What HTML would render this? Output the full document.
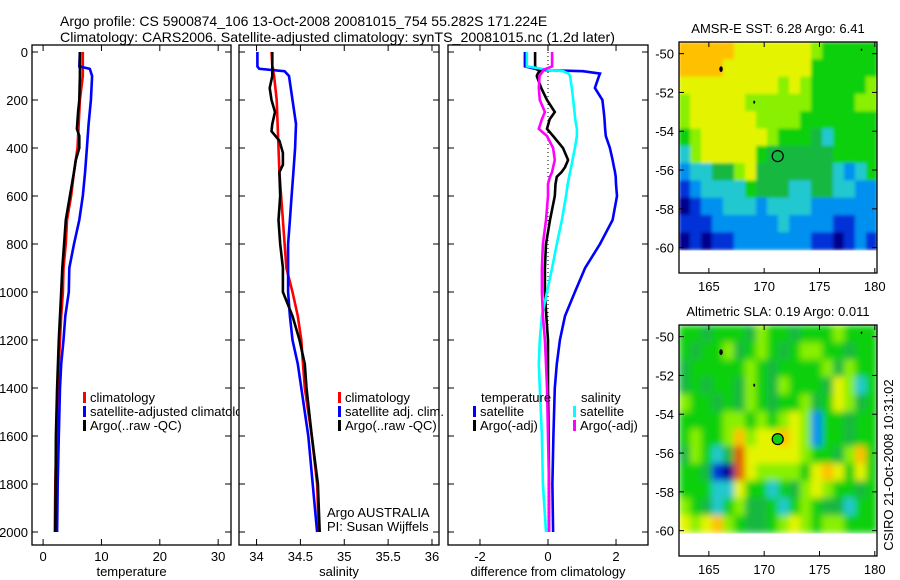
<!DOCTYPE html>
<html><head><meta charset="utf-8"><style>
html,body{margin:0;padding:0;background:#fff;}
svg{display:block;font-family:"Liberation Sans",sans-serif;}
</style></head><body>
<svg id="fig" width="900" height="580" viewBox="0 0 900 580" xmlns="http://www.w3.org/2000/svg">
<defs>
<filter id="blurS" x="0" y="0" width="1" height="1"><feGaussianBlur stdDeviation="1.6" edgeMode="duplicate"/></filter>
<filter id="blurL" x="0" y="0" width="1" height="1"><feGaussianBlur stdDeviation="3.5" edgeMode="duplicate"/></filter>
</defs>
<text x="60" y="26" font-size="14">Argo profile: CS 5900874_106 13-Oct-2008 20081015_754 55.282S 171.224E</text>
<text x="60" y="42" font-size="14" textLength="555" lengthAdjust="spacingAndGlyphs">Climatology: CARS2006. Satellite-adjusted climatology: synTS_20081015.nc (1.2d later)</text>
<g id="g"></g>
<text transform="translate(893,465) rotate(-90)" font-size="13" text-anchor="middle">CSIRO 21-Oct-2008 10:31:02</text>
</svg>
<script>
// ---------- data ----------
const depthT = [0,60,70,100,200,300,400,500,600,700,800,900,1000,1100,1200,1300,1400,1600,1800,2000];
const tempClim = [6.8,6.8,6.8,6.8,6.3,6.1,5.9,5.3,4.8,4.1,3.9,3.5,3.4,3.1,2.9,2.7,2.5,2.3,2.1,2.0];
const tempSat = [6.3,6.2,8.0,8.4,8.2,7.8,7.5,7.2,6.8,6.2,5.3,4.5,4.4,3.8,3.5,3.1,2.9,2.7,2.5,2.4];
const depthA = [0,100,200,250,320,350,400,450,500,600,700,800,900,1000,1200,1400,1600,2000];
const tempArgo = [6.3,6.3,6.2,6.0,5.8,6.2,6.2,5.6,5.3,4.6,3.9,3.6,3.3,3.1,2.7,2.4,2.2,2.1];

const depthS = [0,60,70,80,100,200,300,400,500,600,700,800,900,1000,1100,1200,1300,1400,1600,1800,2000];
const salClim = [34.17,34.18,34.19,34.19,34.2,34.23,34.24,34.25,34.26,34.28,34.3,34.32,34.34,34.41,34.47,34.51,34.53,34.55,34.63,34.69,34.71];
const salSat = [34.01,34.01,34.03,34.32,34.37,34.41,34.45,34.44,34.42,34.4,34.38,34.36,34.36,34.36,34.38,34.41,34.47,34.51,34.59,34.64,34.69];
const depthSA = [0,100,150,200,250,300,330,370,420,470,500,600,700,800,900,1000,1100,1200,1300,1400,1600,1800,2000];
const salArgo = [34.18,34.18,34.15,34.17,34.21,34.18,34.17,34.26,34.3,34.3,34.26,34.27,34.25,34.27,34.3,34.3,34.41,34.49,34.55,34.57,34.63,34.7,34.72];

const depthD = [0,60,75,80,90,100,150,200,250,280,320,350,400,450,480,500,520,550,600,700,800,900,1000,1100,1200,1300,1400,1600,1800,2000];
const dTempSat = [-0.68,-0.68,-0.24,1.03,1.53,1.5,1.38,1.6,1.64,1.66,1.68,1.7,1.82,1.9,1.94,1.97,1.99,2.0,2.03,1.9,1.53,1.09,0.79,0.5,0.35,0.26,0.2,0.16,0.13,0.15];
const dTempArgo = [-0.38,-0.38,-0.3,-0.24,-0.3,-0.33,-0.2,-0.03,0.2,0.05,-0.03,0.15,0.44,0.59,0.5,0.4,0.26,0.22,0.2,0.06,-0.06,-0.09,-0.09,-0.05,0.0,0.0,0.0,0.02,0.03,0.03];
const dSalSat = [-0.62,-0.62,0.06,0.44,0.6,0.65,0.7,0.74,0.78,0.8,0.85,0.85,0.79,0.72,0.68,0.65,0.62,0.58,0.53,0.41,0.26,0.12,-0.03,-0.18,-0.24,-0.27,-0.24,-0.18,-0.15,-0.06];
const dSalArgo = [0.12,0.12,-0.15,-0.15,-0.2,-0.25,-0.27,-0.24,-0.09,-0.18,-0.27,-0.03,0.15,0.2,0.15,0.12,0.06,0.0,0.0,-0.06,-0.15,-0.18,-0.18,-0.15,-0.09,-0.06,-0.03,0.0,0.03,0.03];

const tempTicks = [0,10,20,30];
const salTicks = [34,34.5,35,35.5,36];
const diffTicks = [-2,0,2];
const depthTicks = [0,200,400,600,800,1000,1200,1400,1600,1800,2000];
const lonTicks = [165,170,175,180];
const latTicks = [-50,-52,-54,-56,-58,-60];

// map grids: 12 rows (lat -49.4 -> -60.1), 18 cols (lon 162.3 -> 180.2); colour index 0-9
const sstGrid = [
"888887777777655555",
"888877777777555555",
"777777777676555556",
"677777666666555566",
"677777766665555555",
"567777776555435555",
"367777754444445555",
"233446744444443235",
"123333544433443322",
"012233323333222222",
"111222222322221122",
"010112222222110121"];
const slaGrid = [
"554555465545556555",
"545564565456655455",
"455555654555564655",
"454554654655547635",
"655454654556457645",
"555566565676255455",
"565568677876255455",
"465349777776554685",
"554109766665787575",
"555337553546765545",
"654356445356544355",
"767865445676566555"];
const sstTitle = "AMSR-E SST: 6.28 Argo: 6.41";
const slaTitle = "Altimetric SLA: 0.19 Argo: 0.011";
const argoLon = 171.224, argoLat = -55.282;
const islands = [[166.1,-50.8,2.2],[169.1,-52.5,1.2],[178.8,-49.8,1]];
const cmap = ["#00008f","#0030d8","#0090f0","#20c8d0","#18b840","#10d010","#88f000","#e4f400","#ffc000","#e06000"];

// ---------- drawing ----------
const NS="http://www.w3.org/2000/svg";
const G=document.getElementById('g');
function el(tag,attrs,parent){const e=document.createElementNS(NS,tag);for(const k in attrs)e.setAttribute(k,attrs[k]);(parent||G).appendChild(e);return e;}
function txt(x,y,s,size,anchor,parent){const t=el('text',{x:x,y:y,'font-size':size,'text-anchor':anchor||'start'},parent);t.textContent=s;return t;}

const Y0=52, PY=0.24; // depth axis
function yD(d){return Y0+d*PY;}

function panel(name,x0,x1,xmin,xmax,ticks,label,showDepth){
  const g=el('g',{});
  
  
  const sx=v=>x0+(v-xmin)/(xmax-xmin)*(x1-x0);
  el('rect',{x:x0,y:45,width:x1-x0,height:500,fill:'#fff',stroke:'#000','stroke-width':1.3},g);
  ticks.forEach(t=>{const x=sx(t);
    el('line',{x1:x,x2:x,y1:545,y2:539,stroke:'#000'},g);
    el('line',{x1:x,x2:x,y1:45,y2:51,stroke:'#000'},g);
    const tl=txt(x,561,String(t),13,'middle',g);
    
    
  });
  depthTicks.forEach(d=>{const y=yD(d);
    el('line',{x1:x0,x2:x0+6,y1:y,y2:y,stroke:'#000'},g);
    el('line',{x1:x1,x2:x1-6,y1:y,y2:y,stroke:'#000'},g);
    if(showDepth){const tl=txt(x0-4,y+5,String(d),13,'end',g);
      
      }
  });
  const al=txt((x0+x1)/2,576,label,13,'middle',g);
  
  
  return {g,sx};
}
function line(p,xs,ds,color,name,w){
  const pts=xs.map((v,i)=>p.sx(v).toFixed(1)+','+yD(ds[i]).toFixed(1)).join(' ');
  const l=el('polyline',{points:pts,fill:'none',stroke:color,'stroke-width':w||2.6,'stroke-linejoin':'miter'},p.g);
  
  
}
function legend(p,x,y,color,label){
  el('rect',{x:x,y:y-10,width:3,height:11,fill:color},p.g);
  const t=txt(x+7,y,label,13,'start',p.g);
  
  
}

const p1=panel('temperature-panel',32,231,-1.9,32.2,tempTicks,'temperature',true);
line(p1,tempClim,depthT,'#f00','temp-climatology-line');
line(p1,tempSat,depthT,'#00f','temp-satellite-line');
line(p1,tempArgo,depthA,'#000','temp-argo-line');
legend(p1,83,402,'#f00','climatology');
legend(p1,83,416,'#00f','satellite-adjusted climatology');
legend(p1,83,430,'#000','Argo(..raw -QC)');

const p2=panel('salinity-panel',239,439,33.8,36.08,salTicks,'salinity',false);
line(p2,salClim,depthS,'#f00','sal-climatology-line');
line(p2,salSat,depthS,'#00f','sal-satellite-line');
line(p2,salArgo,depthSA,'#000','sal-argo-line');
legend(p2,338,402,'#f00','climatology');
legend(p2,338,416,'#00f','satellite adj. clim.');
legend(p2,338,430,'#000','Argo(..raw -QC)');
let a=txt(327,517,'Argo AUSTRALIA',13,'start',p2.g);


a=txt(327,531,'PI: Susan Wijffels',13,'start',p2.g);



const p3=panel('difference-panel',448,648,-2.94,2.94,diffTicks,'difference from climatology',false);
el('line',{x1:p3.sx(0),x2:p3.sx(0),y1:yD(0),y2:yD(2000),stroke:'#000','stroke-width':1,'stroke-dasharray':'1,3'},p3.g);
line(p3,dTempSat,depthD,'#00f','diff-temp-satellite-line');
line(p3,dTempArgo,depthD,'#000','diff-temp-argo-line');
line(p3,dSalSat,depthD,'#0ff','diff-sal-satellite-line');
line(p3,dSalArgo,depthD,'#f0f','diff-sal-argo-line');
a=txt(481,402,'temperature',13,'start',p3.g);


a=txt(581,402,'salinity',13,'start',p3.g);


legend(p3,473,416,'#00f','satellite');
legend(p3,473,430,'#000','Argo(-adj)');
legend(p3,573,416,'#0ff','satellite');
legend(p3,573,430,'#f0f','Argo(-adj)');

function map(name,top,grid,title,filled,filt){
  const g=el('g',{});
  
  
  const x0=679,x1=877,lonMin=162.3,lonMax=180.2;
  const latTop=-49.4,latBot=-60.1,ppd=19.4;
  const sx=v=>x0+(v-lonMin)/(lonMax-lonMin)*(x1-x0);
  const sy=v=>top+(latTop-v)*ppd;
  const rows=grid.length,cols=grid[0].length;
  const dLon=(lonMax-lonMin)/cols,dLat=(latTop-latBot)/rows;
  const cg=el('g',{filter:'url(#'+filt+')'},g);
  for(let r=0;r<rows;r++)for(let c=0;c<cols;c++){
    const lon=lonMin+c*dLon,lat=latTop-r*dLat;
    const cell=el('rect',{x:sx(lon).toFixed(2),y:sy(lat).toFixed(2),width:(sx(lon+dLon)-sx(lon)+0.5).toFixed(2),height:(dLat*ppd+0.5).toFixed(2),fill:cmap[+grid[r][c]]},cg);
    
    
  }
  const boxBottom=top+231;
  el('rect',{x:x0,y:top,width:x1-x0,height:231,fill:'none',stroke:'#000','stroke-width':1.3},g);
  lonTicks.forEach(t=>{const x=sx(t);
    el('line',{x1:x,x2:x,y1:boxBottom,y2:boxBottom-5,stroke:'#000'},g);
    el('line',{x1:x,x2:x,y1:top,y2:top+5,stroke:'#000'},g);
    const tl=txt(x,boxBottom+18,String(t),13,'middle',g);
    
    
  });
  latTicks.forEach(t=>{const y=sy(t);
    el('line',{x1:x0,x2:x0+5,y1:y,y2:y,stroke:'#000'},g);
    el('line',{x1:x1,x2:x1-5,y1:y,y2:y,stroke:'#000'},g);
    const tl=txt(x0-5,y+5,String(t),13,'end',g);
    
    
  });
  islands.forEach(i=>{el('ellipse',{cx:sx(i[0]),cy:sy(i[1]),rx:i[2]*0.8,ry:i[2]*1.3,fill:'#000'},g);});
  const c=el('circle',{cx:sx(argoLon),cy:sy(argoLat),r:5.5,fill:filled?'#10d010':'none',stroke:'#000','stroke-width':1.2},g);
  
  
  const tt=txt(778,top-9,title,13,'middle',g);
  
  
}
map('sst-map',42,sstGrid,sstTitle,false,'blurS');
map('sla-map',325,slaGrid,slaTitle,true,'blurL');
</script>
</body></html>
